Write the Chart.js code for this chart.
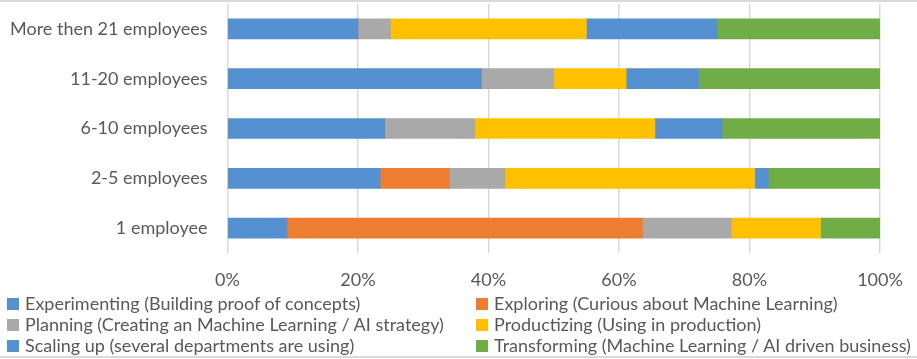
<!DOCTYPE html>
<html>
<head>
<meta charset="utf-8">
<script src="https://cdn.jsdelivr.net/npm/chart.js@4"></script>
<style>
  html, body { margin: 0; padding: 0; background: #fff; }
  #wrap { position: relative; width: 917px; height: 359px; overflow: hidden; }
  #topline, #botline { position: absolute; left: 0; width: 917px; height: 2px; background: #D9D9D9; }
  #topline { top: 0; } #botline { top: 356px; }
  #legend { position: absolute; left: 0; top: 293px; width: 917px; font-family: Lato, sans-serif; font-size: 18px; color: #595959; }
  .item { position: absolute; white-space: nowrap; line-height: 21px; height: 21px; }
  .box { position: absolute; width: 12px; height: 12px; top: 5px; left: 0; }
  .txt { position: absolute; left: 18px; top: 0; }
</style>
</head>
<body>
<div id="wrap">
  <canvas id="c" width="917" height="359"></canvas>
  <div id="legend"></div>
  <div id="topline"></div>
  <div id="botline"></div>
</div>
<script>
const categories = ['More then 21 employees', '11-20 employees', '6-10 employees', '2-5 employees', '1 employee'];
const seriesNames = [
  'Experimenting (Building proof of concepts)',
  'Exploring (Curious about Machine Learning)',
  'Planning (Creating an Machine Learning / AI strategy)',
  'Productizing (Using in production)',
  'Scaling up (several departments are using)',
  'Transforming (Machine Learning / AI driven business)'
];
const experimenting = [20, 38.9, 24.1, 23.4, 9.1];
const exploring     = [0, 0, 0, 10.6, 54.5];
const planning      = [5, 11.1, 13.8, 8.5, 13.6];
const productizing  = [30, 11.1, 27.6, 38.3, 13.7];
const scalingUp     = [20, 11.1, 10.3, 2.1, 0];
const transforming  = [25, 27.8, 24.2, 17.1, 9.1];
const tickValues = [0, 20, 40, 60, 80, 100];

const colors = ['#5591D0', '#ED7D31', '#A9A9A9', '#FFC000', '#5591D0', '#71AD47'];
const seriesData = [experimenting, exploring, planning, productizing, scalingUp, transforming];
const textColor = '#595959';
const fontFamily = 'Lato, sans-serif';

const chart = new Chart(document.getElementById('c'), {
  type: 'bar',
  data: {
    labels: categories,
    datasets: seriesNames.map((n, i) => ({
      label: n,
      data: seriesData[i],
      backgroundColor: colors[i],
      borderWidth: 0,
      barThickness: 20
    }))
  },
  options: {
    indexAxis: 'y',
    responsive: false,
    animation: false,
    layout: { padding: { left: 0, right: 37, top: 4, bottom: 70 } },
    plugins: { legend: { display: false }, tooltip: { enabled: false } },
    scales: {
      x: {
        stacked: true, min: 0, max: 100,
        afterBuildTicks: s => { s.ticks = tickValues.map(v => ({ value: v })); },
        afterFit: s => { s.height = 36; s.paddingLeft = 0; s.paddingRight = 0; },
        ticks: { callback: v => v + '%', color: textColor, font: { family: fontFamily, size: 18 }, padding: 16, maxRotation: 0 },
        grid: { color: '#D9D9D9', lineWidth: 1.5, drawTicks: false },
        border: { display: false }
      },
      y: {
        stacked: true,
        afterFit: s => { s.width = 227.5; s.paddingTop = 0; s.paddingBottom = 0; },
        ticks: { color: textColor, font: { family: fontFamily, size: 18 }, padding: 20 },
        grid: { display: false, drawTicks: false },
        border: { display: false }
      }
    }
  }
});

const legend = document.getElementById('legend');
const colX = [7, 476];
chart.data.datasets.forEach((ds, i) => {
  const col = i % 2, row = Math.floor(i / 2);
  const it = document.createElement('div');
  it.className = 'item';
  it.style.left = colX[col] + 'px';
  it.style.top = (row * 21) + 'px';
  const b = document.createElement('span'); b.className = 'box'; b.style.background = ds.backgroundColor;
  const t = document.createElement('span'); t.className = 'txt'; t.textContent = ds.label;
  it.appendChild(b); it.appendChild(t);
  legend.appendChild(it);
});
</script>
</body>
</html>
